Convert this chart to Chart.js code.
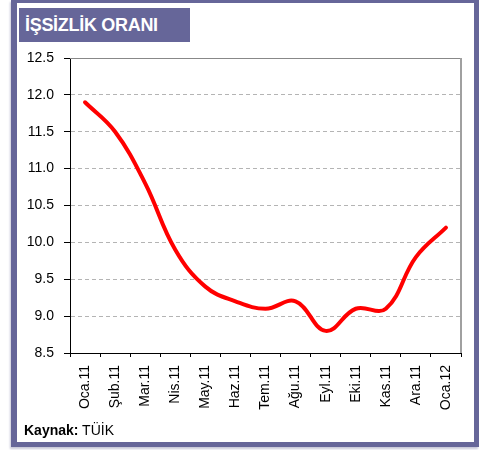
<!DOCTYPE html>
<html lang="tr">
<head>
  <meta charset="UTF-8">
  <title>İşsizlik Oranı</title>
  <script src="https://cdn.jsdelivr.net/npm/chart.js"></script>
  <style>
    body { margin: 0; background: #fff; font-family: "Liberation Sans", Arial, sans-serif; }
    #wrap { position: relative; width: 479px; height: 450px; overflow: hidden; }
    #chart { position: absolute; left: 0; top: 0; }
    .frame {
      position: absolute; left: 11px; top: 0; width: 468px; height: 447px;
      box-sizing: border-box; border-style: solid; border-color: #666699;
      border-width: 3px 5px 5px 6px; box-shadow: -1px 2px 2px #c8c8d8;
    }
    .title {
      position: absolute; left: 19px; top: 8px; width: 171px; height: 34px;
      background: #666699; color: #fff; font-weight: bold; font-size: 18px;
      letter-spacing: -0.3px; line-height: 34px; padding-left: 6px; box-sizing: border-box;
    }
    .source { position: absolute; left: 24px; top: 422px; font-size: 14px; color: #000; }
  </style>
</head>
<body>
  <div id="wrap">
    <canvas id="chart" width="479" height="450"></canvas>
    <div class="frame"></div>
    <div class="title">İŞSİZLİK ORANI</div>
    <div class="source"><b>Kaynak:</b> TÜİK</div>
  </div>

  <script>
    // veriler
    const months = ['Oca.11', 'Şub.11', 'Mar.11', 'Nis.11', 'May.11', 'Haz.11', 'Tem.11',
                    'Ağu.11', 'Eyl.11', 'Eki.11', 'Kas.11', 'Ara.11', 'Oca.12'];
    const unemployment = [11.9, 11.5, 10.8, 9.9, 9.4, 9.2, 9.1, 9.2, 8.8, 9.1, 9.1, 9.8, 10.2];
    const yMin = 8.5, yMax = 12.5, yStep = 0.5;

    Chart.defaults.font.family = '"Liberation Sans", Arial, sans-serif';
    Chart.defaults.font.size = 14;
    Chart.defaults.color = '#000';

    // üst ve sağ gri çerçeve çizgisi
    const plotBorder = {
      id: 'plotBorder',
      beforeDatasetsDraw(chart) {
        const { ctx, chartArea: a } = chart;
        ctx.save();
        ctx.strokeStyle = '#888';
        ctx.lineWidth = 1;
        ctx.beginPath();
        ctx.moveTo(a.left, a.top + 0.5);
        ctx.lineTo(a.right, a.top + 0.5);
        ctx.stroke();
        ctx.strokeStyle = '#a0a0a0';
        ctx.lineWidth = 2;
        ctx.beginPath();
        ctx.moveTo(a.right, a.top);
        ctx.lineTo(a.right, a.bottom);
        ctx.stroke();
        ctx.restore();
      }
    };

    new Chart(document.getElementById('chart'), {
      type: 'line',
      data: {
        labels: months,
        datasets: [{
          data: unemployment,
          borderColor: '#ff0000',
          borderWidth: 4,
          borderCapStyle: 'round',
          tension: 0.4,
          pointRadius: 0,
          fill: false
        }]
      },
      options: {
        responsive: false,
        animation: false,
        layout: { padding: { left: 0, top: 58, right: 18, bottom: 0 } },
        plugins: { legend: { display: false }, tooltip: { enabled: false } },
        scales: {
          x: {
            offset: true,
            afterFit: s => { s.height = 97; },
            grid: { offset: true, drawOnChartArea: false, tickLength: 4, color: '#000' },
            border: { color: '#000', width: 1 },
            ticks: { minRotation: 90, maxRotation: 90, padding: 8, autoSkip: false }
          },
          y: {
            min: yMin,
            max: yMax,
            afterFit: s => { s.width = 70; },
            grid: {
              color: ctx => (ctx.tick && (ctx.tick.value === yMin || ctx.tick.value === yMax)) ? 'rgba(0,0,0,0)' : '#b4b4b4',
              tickColor: '#000',
              tickLength: 6
            },
            border: { color: '#000', width: 1, dash: [4, 3] },
            ticks: { stepSize: yStep, padding: 10, callback: v => v.toFixed(1) }
          }
        }
      },
      plugins: [plotBorder]
    });
  </script>
</body>
</html>
